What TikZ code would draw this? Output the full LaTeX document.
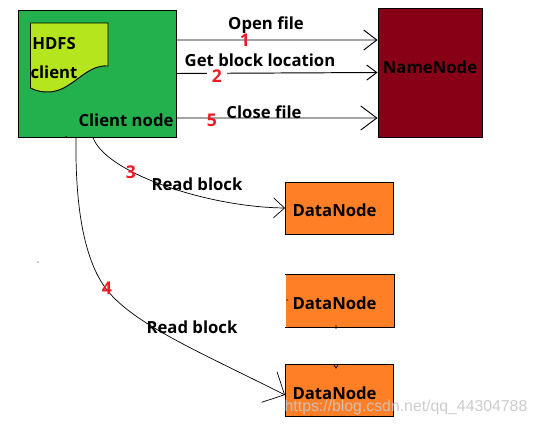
\documentclass[tikz,border=0pt]{standalone}
\usepackage{fontspec}
\setmainfont{Open Sans}
\newfontfamily\markfont{Liberation Sans}
\usetikzlibrary{arrows.meta}
\definecolor{clientgreen}{RGB}{34,177,76}
\definecolor{notelime}{RGB}{181,230,29}
\definecolor{namered}{RGB}{136,0,21}
\definecolor{dataorange}{RGB}{255,127,39}
\definecolor{numred}{RGB}{237,28,36}

\begin{document}
\begin{tikzpicture}[x=0.02cm, y=-0.02cm, node distance=1.86cm,
	font=\fontsize{9.5}{11}\selectfont\bfseries]
	\tikzset{
		box/.style = {draw, line width=0.55pt, inner sep=0pt},
		datanode/.style = {box, fill=dataorange, minimum height=1.04cm, inner xsep=0.14cm,
			text width=1.88cm, align=left, text height=10pt, text depth=0pt},
		txt/.style = {inner sep=0pt},
		num/.style = {inner sep=0pt, text=numred, font=\fontsize{10}{11}\selectfont\bfseries},
		barb/.style 2 args = {-{Straight Barb[length=#1*0.02cm, width=#2*0.02cm]}},
		conn/.style = {line width=0.55pt},
		curve/.style = {line width=0.4pt}
	}
	\useasboundingbox (0,0) rectangle (536,426);

	\node[box, fill=clientgreen, minimum width=3.16cm, minimum height=2.54cm] (client) at (97,73.5) {};
	\node[box, fill=namered, minimum width=2.08cm, minimum height=2.58cm] (name) at (430,72.5) {};
	\node[datanode] (dn1) at (339.5,208) {DataNode};
	\node[datanode, draw=none, below of=dn1] (dn2) {DataNode};
	\node[datanode, below of=dn2, yshift=0.06cm] (dn3) {DataNode};
	\draw[line width=0.55pt] (dn2.north west) -- (dn2.north east) -- (dn2.south east) -- (dn2.south west);

	% note inside client box
	\draw[line width=0.55pt, fill=notelime] (30.5,23) -- (108,23) -- (108,66)
		.. controls (85,64) and (72,92) .. (48,92)
		.. controls (42,92) and (36,91) .. (30.5,88) -- cycle;

	\path[conn]
		([yshift=0.67cm]client.east) edge[barb={13}{20}] ([yshift=0.65cm]name.west)
		(client.east) edge[barb={10}{15}] (name.west)
		([yshift=-0.89cm]client.east) edge[barb={16}{24}] ([yshift=-0.91cm]name.west);

	\draw[curve, barb={11}{20}] ([xshift=-0.08cm]client.south)
		.. controls (105,172) and (205,207) .. (dn1.west);
	\draw[curve, barb={17}{34}] ([xshift=-0.42cm]client.south)
		.. controls (75,210) and (85,262) .. (107,290)
		.. controls (135,325) and (200,352) .. ([yshift=-0.08cm]dn3.west);

	% specks
	\draw[line width=0.4pt] (38,261.5) -- (38,262.5) (336,325) -- (336,329)
		(334,365) -- (336,368) -- (338,365) (286,300) -- (288,300) (66,136) -- (67,138);

	\node[txt] (hdfs) at (54,44) {HDFS};
	\node[txt] (clientname) at (54,72) {client};
	\node[txt] (clientnode) at (126,120) {Client node};
	\node[txt] (namelabel) at (430,67) {NameNode};

	\node[txt] (open) at (266,25) {Open file};
	\node[txt] (getblock) at (260,60) {Get block location};
	\node[txt] (close) at (264,112) {Close file};
	\node[txt] (read3) at (197,184) {Read block};
	\node[txt] (read4) at (192,327) {Read block};

	\node[num] (n1) at (245,40) {1};
	\node[num, fill=white, inner xsep=3pt] (n2) at (217,76) {2};
	\node[num] (n5) at (212,120) {5};
	\node[num] (n3) at (131,172) {3};
	\node[num] (n4) at (107,288) {4};

	\node[txt, text=gray!45, opacity=0.9, font=\fontsize{9}{10}\selectfont\markfont] (mark) at (406,407)
		{https://blog.csdn.net/qq\_44304788};
\end{tikzpicture}
\end{document}
